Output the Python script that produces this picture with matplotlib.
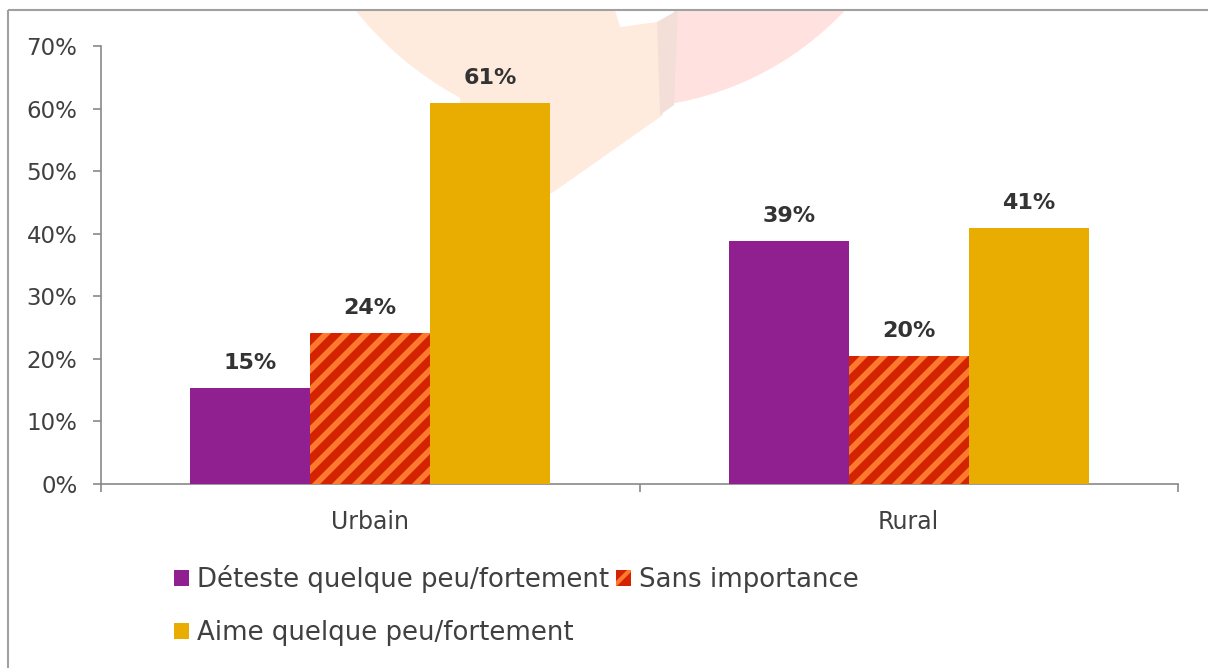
import matplotlib
matplotlib.use("Agg")
import matplotlib.pyplot as plt
import numpy as np
from matplotlib.patches import Rectangle, Polygon, Patch, Circle
from matplotlib.transforms import Affine2D
from matplotlib.collections import LineCollection

categories = ["Urbain", "Rural"]
series_names = ["Déteste quelque peu/fortement", "Sans importance", "Aime quelque peu/fortement"]
deteste = [15.3, 38.8]
sans = [24.1, 20.4]
aime = [60.9, 40.9]
yticks = [0, 10, 20, 30, 40, 50, 60, 70]

plt.rcParams['font.family'] = ['DejaVu Sans']
plt.rcParams['hatch.linewidth'] = 3.0

W, H = 1208, 668
fig = plt.figure(figsize=(W / 100, H / 100), dpi=100)
fig.patch.set_facecolor('white')

def fx(x): return x / W
def fy(y): return 1 - y / H

# pixel (top-left origin) transform
pix = Affine2D().scale(1 / W, -1 / H).translate(0, 1) + fig.transFigure

# faint background decorations (decorative only)
cxp, cyp, rp = 620, -200, 338
arc_x = np.linspace(620 - np.sqrt(rp ** 2 - (10 - cyp) ** 2), 460, 30)
arc = [(xx, cyp + np.sqrt(rp ** 2 - (xx - cxp) ** 2)) for xx in arc_x]
peach_pts = [(615, 10)] + arc + [(462, 200), (552, 193), (663, 115), (657, 22), (620, 27)]
peach = Polygon(peach_pts, closed=True, transform=pix, facecolor='#FFEBDE',
                edgecolor='none', zorder=0)
fig.patches.append(peach)
pink_clip = Polygon([(674, 10), (1000, 10), (1000, 300), (670, 300)], closed=True, transform=pix,
                    facecolor='none', edgecolor='none')
pink = Circle((620, -200), 308, transform=pix, facecolor='#FFE2DF', edgecolor='none', zorder=0)
pink.set_clip_path(pink_clip)
fig.patches.append(pink)
shadow = Polygon([(657, 22), (678, 10), (674, 105), (660, 115)], closed=True, transform=pix,
                 facecolor='#F3DFD8', edgecolor='none', zorder=0)
fig.patches.append(shadow)

# frame
frame = Rectangle((8, 10), 1300, 800, transform=pix,
                  facecolor='none', edgecolor='#A0A0A0', linewidth=1.5, zorder=1)
fig.patches.append(frame)

ax = fig.add_axes([fx(101), fy(484), fx(1178) - fx(101), fy(46) - fy(484)])
ax.set_facecolor('none')
ax.set_zorder(3)

x = np.arange(len(categories))
bw = 0.223
c_purple, c_red, c_orange, c_yellow = '#901F8F', '#D42300', '#FF7A2E', '#E9AC00'
b1 = ax.bar(x - bw, deteste, bw, color=c_purple, linewidth=0, zorder=3)
b2 = ax.bar(x, sans, bw, color=c_red, linewidth=0, zorder=3)
b3 = ax.bar(x + bw, aime, bw, color=c_yellow, linewidth=0, zorder=3)

# diagonal stripe pattern on the "Sans importance" bars (20 px period, 45 degrees)
segs = [[(20 * k, 700), (20 * k + 700, 0)] for k in range(-40, 70)]
for rect in b2:
    lc = LineCollection(segs, colors=c_orange, linewidths=4.2, transform=pix, zorder=3.5)
    ax.add_collection(lc, autolim=False)
    lc.set_clip_path(rect)

for bars, vals in [(b1, deteste), (b2, sans), (b3, aime)]:
    for rect, v in zip(bars, vals):
        ax.annotate(f"{round(v):.0f}%", (rect.get_x() + rect.get_width() / 2, v),
                    xytext=(0, 11), textcoords='offset points', ha='center', va='bottom',
                    fontsize=16, fontweight='bold', color='#333333', zorder=4)

ax.set_xlim(-0.5, len(categories) - 0.5)
ax.set_ylim(0, 70)
ax.set_yticks(yticks)
ax.set_yticklabels([f"{t}%" for t in yticks])
ax.set_xticks(np.arange(len(categories) + 1) - 0.5)
ax.set_xticklabels([])
ax.set_xticks(x, minor=True)
ax.set_xticklabels(categories, minor=True)
ax.tick_params(axis='x', which='minor', length=0, pad=19, labelsize=17, labelcolor='#404040')
ax.tick_params(axis='x', which='major', length=6, width=1.2, color='#898989', direction='out')
ax.tick_params(axis='y', length=6, width=1.2, color='#898989', direction='out', pad=11,
               labelsize=16.5, labelcolor='#404040')
for s in ['top', 'right']:
    ax.spines[s].set_visible(False)
for s in ['left', 'bottom']:
    ax.spines[s].set_color('#898989')
    ax.spines[s].set_linewidth(1.2)

handles = [Patch(facecolor=c_purple, edgecolor='none'),
           Patch(facecolor=c_yellow, edgecolor='none'),
           Patch(facecolor=c_red, edgecolor=c_orange, hatch='/', linewidth=0)]
labels = [series_names[0], series_names[2], series_names[1]]
leg = fig.legend(handles, labels, loc='upper left', bbox_to_anchor=(fx(174), fy(565)),
                 ncol=2, frameon=False, fontsize=18.7, handlelength=0.58, handleheight=0.58,
                 handletextpad=0.3, columnspacing=0.27, labelspacing=1.05,
                 borderaxespad=0, borderpad=0)
leg.set_zorder(4)
for t in leg.get_texts():
    t.set_color('#404040')

fig.savefig('out.png', dpi=100)
